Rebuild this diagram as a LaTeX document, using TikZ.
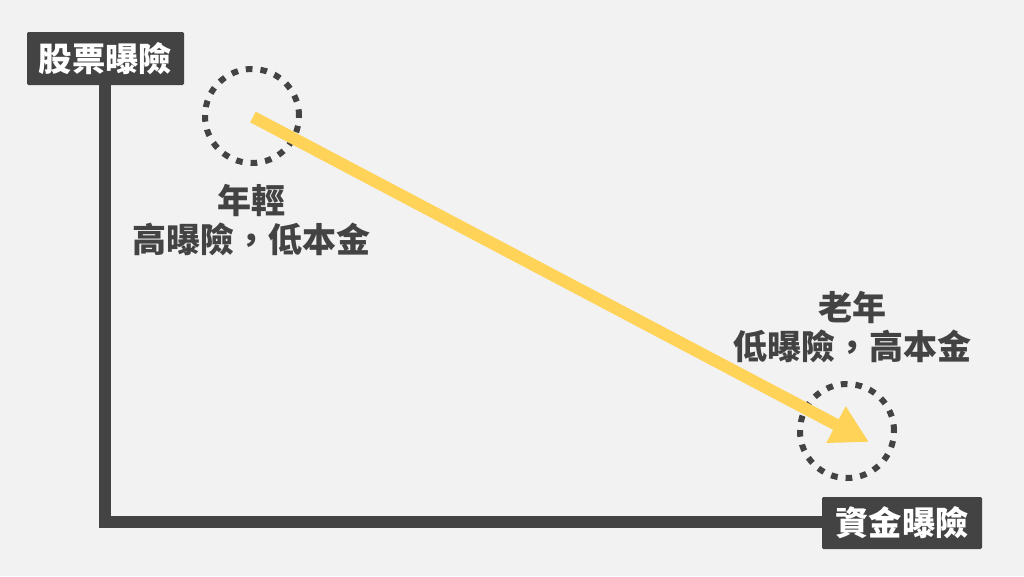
\documentclass[tikz,border=0pt]{standalone}
\usepackage{fontspec}
\newfontfamily\cjk{Noto Sans CJK TC}
\usetikzlibrary{arrows.meta}
\definecolor{bg}{HTML}{F2F2F2}
\definecolor{dark}{HTML}{434343}
\definecolor{gold}{HTML}{FFD357}
\tikzset{
  axislabel/.style={fill=dark, text=white, rounded corners=1pt, inner sep=0pt,
    font=\cjk\bfseries\fontsize{25}{28}\selectfont},
  axisline/.style={draw=dark, line width=9pt, line join=miter},
  ring/.style={circle, draw=dark, line width=4.5pt, dash pattern=on 5pt off 6pt, minimum size=70.5pt, inner sep=0pt},
  caption/.style={text=dark, align=center, inner sep=0pt,
    font=\cjk\bfseries\fontsize{25.5}{29.5}\selectfont},
  trend/.style={draw=gold, line width=9pt, -{Triangle[length=28pt,width=29pt]}}
}
\begin{document}
\begin{tikzpicture}[x=0.75pt,y=-0.75pt]
\useasboundingbox[fill=bg] (0,0) rectangle (1024,576);
\node[axislabel, minimum width=117.75pt, minimum height=39.75pt] (ylab) at (105.5,58.5) {股票曝險};
\node[axislabel, minimum width=120pt, minimum height=39pt] (xlab) at (902,523) {資金曝險};
\coordinate (corner) at (105,522);
\draw[axisline] (ylab.south -| corner) -- (corner) -- (xlab.west |- corner);
\node[ring] (young) at (252,116) {};
\node[ring] (old) at (847,431) {};
\coordinate (start) at (253,117);
\coordinate (tip) at (869,442);
\draw[trend] (start) -- (tip);
\node[caption] (ytext) at (251,220) {年輕\\高曝險，低本金};
\node[caption] (otext) at (852,327) {老年\\低曝險，高本金};
\end{tikzpicture}
\end{document}
